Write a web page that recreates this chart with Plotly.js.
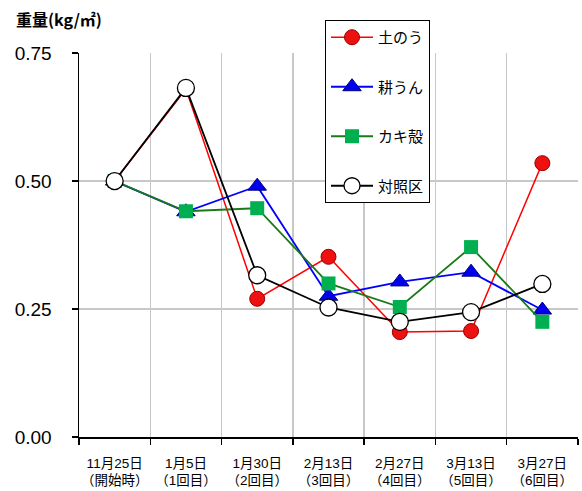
<!DOCTYPE html>
<html>
<head>
<meta charset="utf-8">
<script src="https://cdn.plot.ly/plotly-3.0.1.min.js"></script>
<style>html,body{margin:0;padding:0;background:#fff;}#chart{width:582px;height:491px;}</style>
</head>
<body>
<div id="chart"></div>
<script>
const categories = ["11月25日<br>（開始時）", "1月5日<br>（1回目）", "1月30日<br>（2回目）", "2月13日<br>（3回目）", "2月27日<br>（4回目）", "3月13日<br>（5回目）", "3月27日<br>（6回目）"];
const seriesNames = ["土のう", "耕うん", "カキ殻", "対照区"];
const donou = [0.50, 0.68, 0.27, 0.352, 0.205, 0.207, 0.535];
const kouun = [0.50, 0.44, 0.49, 0.275, 0.303, 0.322, 0.248];
const kakigara = [0.50, 0.441, 0.447, 0.30, 0.254, 0.371, 0.225];
const taishou = [0.50, 0.682, 0.316, 0.253, 0.225, 0.244, 0.299];
const yTicks = [0, 0.25, 0.5, 0.75];
const yTickText = ["0.00", "0.25", "0.50", "0.75"];

const jp = '"Noto Sans CJK JP", sans-serif';

const traces = [
  {y: donou, name: seriesNames[0], line: {color: '#ff0000', width: 1.5},
   marker: {symbol: 'circle', size: 15, color: '#ee1111', line: {color: '#990000', width: 1}}},
  {y: kouun, name: seriesNames[1], line: {color: '#0000ff', width: 1.8},
   marker: {symbol: 'triangle-up', size: 16, color: '#0000ee', line: {color: '#000080', width: 1}}},
  {y: kakigara, name: seriesNames[2], line: {color: '#1a7a1a', width: 1.8},
   marker: {symbol: 'square', size: 14, color: '#00b050', line: {width: 0}}},
  {y: taishou, name: seriesNames[3], line: {color: '#000000', width: 1.8},
   marker: {symbol: 'circle', size: 17, color: '#ffffff', line: {color: '#000000', width: 1.3}}}
].map((t, i) => Object.assign({
  x: categories, type: 'scatter', mode: 'lines+markers', legendgroup: 'g' + i
}, t));

const layout = {
  width: 582, height: 491,
  margin: {l: 79, r: 4, t: 53, b: 54},
  paper_bgcolor: '#ffffff', plot_bgcolor: '#ffffff',
  showlegend: true,
  legend: {
    x: 0.493, y: 1.086, xanchor: 'left', yanchor: 'top',
    bordercolor: '#000000', borderwidth: 1, bgcolor: '#ffffff',
    font: {family: jp, size: 15, color: '#000000'},
    traceorder: 'grouped', tracegroupgap: 27, itemwidth: 42
  },
  xaxis: {
    type: 'category', tickson: 'boundaries', range: [-0.5, 6.5],
    showgrid: true, gridcolor: '#c8c8c8', gridwidth: 1.5,
    showline: true, linecolor: '#000000', linewidth: 1.5,
    ticks: 'outside', ticklen: 6, tickcolor: '#000000', tickwidth: 1.5,
    tickangle: 0, ticklabelstandoff: 13,
    tickfont: {family: '"Liberation Sans", "Noto Sans CJK JP", sans-serif', size: 13.5, color: '#000000'},
    fixedrange: true
  },
  yaxis: {
    range: [0, 0.7502], tickvals: yTicks, ticktext: yTickText,
    showgrid: true, gridcolor: '#c8c8c8', gridwidth: 1.5, zeroline: false,
    showline: true, linecolor: '#000000', linewidth: 1.5,
    ticks: 'outside', ticklen: 6, tickcolor: '#000000', tickwidth: 1.5,
    ticklabelstandoff: 16,
    tickfont: {family: '"Liberation Sans", Arial, sans-serif', size: 19, color: '#000000'},
    fixedrange: true
  },
  annotations: [{
    text: '<b>重量(kg/㎡)</b>', xref: 'paper', yref: 'paper',
    x: -0.13, y: 1.125, xanchor: 'left', yanchor: 'top', showarrow: false,
    font: {family: jp, size: 16, color: '#000000'}
  }]
};

Plotly.newPlot('chart', traces, layout, {displayModeBar: false, staticPlot: true});
</script>
</body>
</html>
